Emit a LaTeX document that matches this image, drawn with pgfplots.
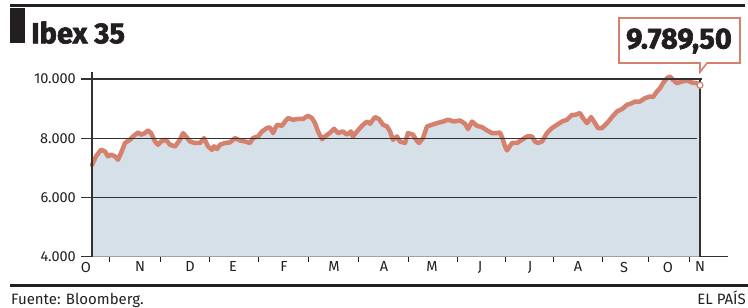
\documentclass[border=0pt]{standalone}
\usepackage{pgfplots}
\usepackage{pgfplotstable}
\pgfplotsset{compat=1.18}
\usepackage{fontspec}
\setmainfont{Fira Sans}
\newfontfamily\heavy{Fira Sans}[BoldFeatures={FakeBold=2.2}]
\definecolor{salmon}{RGB}{214,128,110}
\definecolor{areab}{RGB}{213,224,232}
\definecolor{ink}{RGB}{35,31,32}
\definecolor{gridc}{RGB}{50,50,50}
\pgfplotstableread{
x y
92 7100
96 7390
101 7610
105 7555
108 7390
111 7445
115 7390
118 7275
121 7500
125 7840
130 7950
133 8060
138 8195
141 8120
145 8175
148 8265
151 8175
155 7890
158 7780
161 7890
166 7950
170 7780
175 7725
180 7950
183 8175
186 8060
190 7890
195 7840
200 7840
204 8005
208 7725
212 7610
214 7725
217 7635
220 7780
225 7840
230 7860
235 8005
240 7925
245 7890
250 7840
253 8005
258 8060
262 8230
267 8345
270 8365
273 8175
277 8455
282 8420
285 8565
288 8680
293 8625
298 8650
303 8650
308 8760
312 8680
315 8510
318 8230
322 7970
325 8060
330 8185
334 8320
338 8175
343 8230
347 8120
351 8230
353 8060
357 8230
362 8420
367 8565
370 8490
375 8715
379 8650
383 8455
387 8400
390 8230
393 7950
397 8060
400 7890
405 7840
408 8175
413 8120
416 7950
419 7840
423 8005
427 8400
432 8455
437 8510
443 8565
448 8625
454 8565
460 8600
465 8490
468 8310
472 8565
477 8420
482 8375
487 8265
492 8175
497 8175
500 8195
503 7950
505 7725
507 7590
512 7840
517 7840
522 7950
527 8060
532 8060
535 7890
538 7840
542 7890
547 8175
552 8345
557 8455
562 8565
567 8625
572 8790
575 8790
580 8850
583 8680
587 8510
591 8715
594 8565
598 8345
602 8345
607 8510
612 8715
617 8905
622 8985
627 9130
632 9185
635 9240
640 9240
645 9355
650 9410
653 9390
657 9580
660 9690
663 9860
667 10030
670 10085
673 9970
677 9860
682 9915
687 9950
692 9880
697 9860
700 9789.5
}\ibex
\begin{document}
\begin{tikzpicture}
\useasboundingbox (0pt,0pt) rectangle (748pt,-308pt);
\begin{axis}[
  at={(81pt,-256.7pt)}, anchor=south west,
  scale only axis, width=647pt, height=192.5pt,
  xmin=81, xmax=728, ymin=4000, ymax=10500,
  scaled y ticks=false, scaled x ticks=false,
  axis x line*=bottom, axis y line*=left,
  y axis line style={draw=none},
  x axis line style={gridc, line width=1.2pt},
  xtick={86,140,190,233,284,334,384,432,480,530,578,624,668,700},
  xticklabels={O,N,D,E,F,M,A,M,J,J,A,S,O,N},
  minor xtick={109,160,209,258,308,358,408,457,505,553,602,648,689},
  major tick length=0pt, minor tick length=5pt,
  xtick align=outside,
  minor tick style={ink, line width=0.9pt},
  ytick={4000,6000,8000,10000},
  yticklabels={4.000,6.000,8.000,10.000},
  yticklabel style={anchor=east, inner sep=0pt, xshift=-5pt, font=\fontsize{14.5}{16}\selectfont, text=ink},
  xticklabel style={anchor=north, inner sep=0pt, yshift=-5pt, font=\fontsize{14.5}{16}\selectfont, text=ink},
]
\addplot[fill=areab, draw=none] table {\ibex} \closedcycle;
\addplot[salmon, line width=4.5pt, line join=round, line cap=round] table {\ibex};
\addplot[gridc, line width=1.2pt] coordinates {(81,10000) (702,10000)};
\addplot[gridc, line width=1.2pt] coordinates {(81,8000) (697,8000)};
\addplot[gridc, line width=1.2pt] coordinates {(81,6000) (697,6000)};
\addplot[gridc, line width=1.2pt] coordinates {(92,4000) (92,10230)};
\addplot[gridc, line width=1.2pt] coordinates {(700,4000) (700,10000)};
\addplot[only marks, mark=*, mark size=3pt, mark options={fill=white, draw=salmon, line width=1.2pt}] coordinates {(700,9789.5)};
\end{axis}
\fill[ink] (10pt,-4.3pt) rectangle (745pt,-6.7pt);
\fill[ink] (10pt,-8.3pt) rectangle (25pt,-43.3pt);
\node[anchor=base west, inner sep=0pt, text=ink, font=\fontsize{29}{32}\selectfont\heavy\bfseries] at (31pt,-43.3pt) {Ibex 35};
\fill[ink] (10pt,-284pt) rectangle (748pt,-286.5pt);
\node[anchor=base west, inner sep=0pt, text=ink, font=\fontsize{15}{17}\selectfont] at (11pt,-304pt) {Fuente: Bloomberg.};
\node[anchor=base east, inner sep=0pt, text=ink, font=\fontsize{15}{17}\selectfont] at (746pt,-304pt) {EL PAÍS};
\filldraw[draw=salmon, fill=white, line width=1.6pt, line join=miter]
  (619pt,-18pt) -- (740pt,-18pt) -- (740pt,-63pt) -- (707pt,-63pt) -- (700pt,-72pt) -- (700pt,-63pt) -- (619pt,-63pt) -- cycle;
\node[anchor=base, inner sep=0pt, text=ink, font=\fontsize{29}{32}\selectfont\heavy\bfseries] at (679pt,-48.5pt) {9.789,50};
\end{tikzpicture}
\end{document}
